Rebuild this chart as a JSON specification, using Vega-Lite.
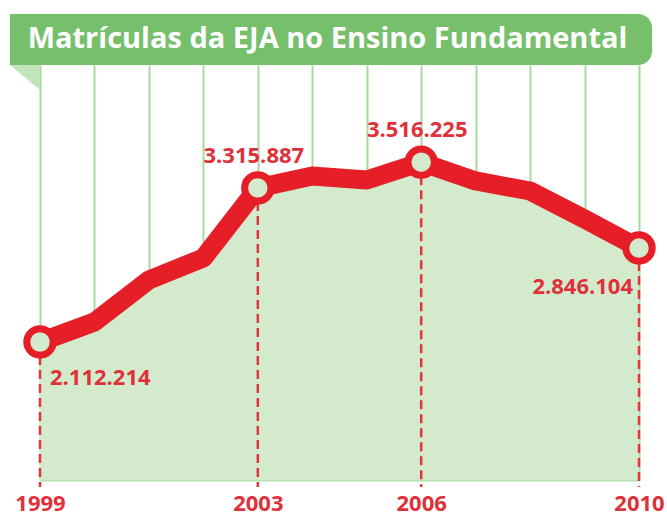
{
  "$schema": "https://vega.github.io/schema/vega-lite/v6.json",
  "width": 599,
  "height": 415,
  "autosize": "none",
  "padding": {"left": 40, "top": 65, "right": 28, "bottom": 35},
  "background": "white",
  "config": {"view": {"stroke": null}, "font": "Open Sans"},
  "layer": [
    {
      "data": {
        "values": [
          {"ano": 1999, "matriculas": 2112214, "rotulo": "2.112.214"},
          {"ano": 2000, "matriculas": 2268400},
          {"ano": 2001, "matriculas": 2596400},
          {"ano": 2002, "matriculas": 2768300},
          {"ano": 2003, "matriculas": 3315887, "rotulo": "3.315.887"},
          {"ano": 2004, "matriculas": 3408700},
          {"ano": 2005, "matriculas": 3377400},
          {"ano": 2006, "matriculas": 3516225, "rotulo": "3.516.225"},
          {"ano": 2007, "matriculas": 3370000},
          {"ano": 2008, "matriculas": 3291500},
          {"ano": 2009, "matriculas": 3072800},
          {"ano": 2010, "matriculas": 2846104, "rotulo": "2.846.104"}
        ]
      },
      "encoding": {
        "x": {
          "field": "ano",
          "type": "quantitative",
          "scale": {"domain": [1999, 2010], "nice": false, "zero": false},
          "axis": {
            "title": null,
            "values": [1999, 2000, 2001, 2002, 2003, 2004, 2005, 2006, 2007, 2008, 2009, 2010],
            "format": "d",
            "labelExpr": "indexof([1999, 2003, 2006, 2010], datum.value) >= 0 ? datum.label : ''",
            "grid": true,
            "gridColor": "#a9d9a1",
            "gridWidth": 2,
            "ticks": false,
            "domain": true,
            "domainColor": "#b8dfb0",
            "domainWidth": 2,
            "labelColor": "#e0303a",
            "labelFont": "Open Sans",
            "labelFontWeight": "bold",
            "labelFontSize": 22,
            "labelPadding": 13,
            "labelFlush": false,
            "labelOverlap": false
          }
        },
        "y": {
          "field": "matriculas",
          "type": "quantitative",
          "scale": {"domain": [1034434, 4275584], "nice": false, "zero": false},
          "axis": null
        }
      },
      "layer": [
        {
          "mark": {"type": "area", "color": "#d3ebcc", "interpolate": "linear"},
          "encoding": {"y2": {"datum": 1034434}}
        },
        {
          "transform": [{"filter": "isValid(datum.rotulo)"}],
          "mark": {"type": "rule", "color": "#e2343c", "strokeWidth": 2.5, "strokeDash": [9, 5]},
          "encoding": {"y2": {"datum": 979764}}
        },
        {
          "mark": {"type": "line", "color": "#e61e27", "strokeWidth": 19, "strokeCap": "round", "strokeJoin": "round", "interpolate": "linear"}
        },
        {
          "transform": [{"filter": "isValid(datum.rotulo)"}],
          "mark": {"type": "point", "shape": "circle", "filled": false, "fill": "#d3ebcc", "fillOpacity": 1, "stroke": "#e61e27", "strokeWidth": 7, "size": 700, "opacity": 1}
        },
        {
          "transform": [{"filter": "datum.ano == 2003 || datum.ano == 2006"}],
          "mark": {"type": "text", "color": "#e0303a", "font": "Open Sans", "fontWeight": "bold", "fontSize": 22, "align": "center", "baseline": "middle", "dy": -32, "dx": -4},
          "encoding": {"text": {"field": "rotulo"}}
        },
        {
          "transform": [{"filter": "datum.ano == 1999"}],
          "mark": {"type": "text", "color": "#e0303a", "font": "Open Sans", "fontWeight": "bold", "fontSize": 22, "align": "left", "baseline": "middle", "dy": 36, "dx": 10},
          "encoding": {"text": {"field": "rotulo"}}
        },
        {
          "transform": [{"filter": "datum.ano == 2010"}],
          "mark": {"type": "text", "color": "#e0303a", "font": "Open Sans", "fontWeight": "bold", "fontSize": 22, "align": "right", "baseline": "middle", "dy": 39, "dx": -6},
          "encoding": {"text": {"field": "rotulo"}}
        }
      ]
    },
    {
      "data": {"values": [{"titulo": "Matrículas da EJA no Ensino Fundamental"}]},
      "layer": [
        {
          "mark": {"type": "point", "shape": "M-1,-0.833L1,-0.833L1,0.833Z", "filled": true, "color": "#c3e5bb", "opacity": 1, "size": 900},
          "encoding": {
            "x": {"datum": 1998.7245, "type": "quantitative"},
            "y": {"datum": 4177959, "type": "quantitative"}
          }
        },
        {
          "mark": {"type": "rect", "color": "#76c06c", "cornerRadiusTopRight": 14, "cornerRadiusBottomRight": 14},
          "encoding": {
            "x": {"datum": 1998.449, "type": "quantitative"},
            "x2": {"datum": 2010.24},
            "y": {"datum": 4673894, "type": "quantitative"},
            "y2": {"datum": 4275584}
          }
        },
        {
          "mark": {"type": "text", "color": "white", "font": "Open Sans", "fontWeight": "bold", "fontSize": 29, "align": "center", "baseline": "alphabetic"},
          "encoding": {
            "x": {"datum": 2004.28, "type": "quantitative"},
            "y": {"datum": 4408354, "type": "quantitative"},
            "text": {"field": "titulo"}
          }
        }
      ]
    }
  ]
}
